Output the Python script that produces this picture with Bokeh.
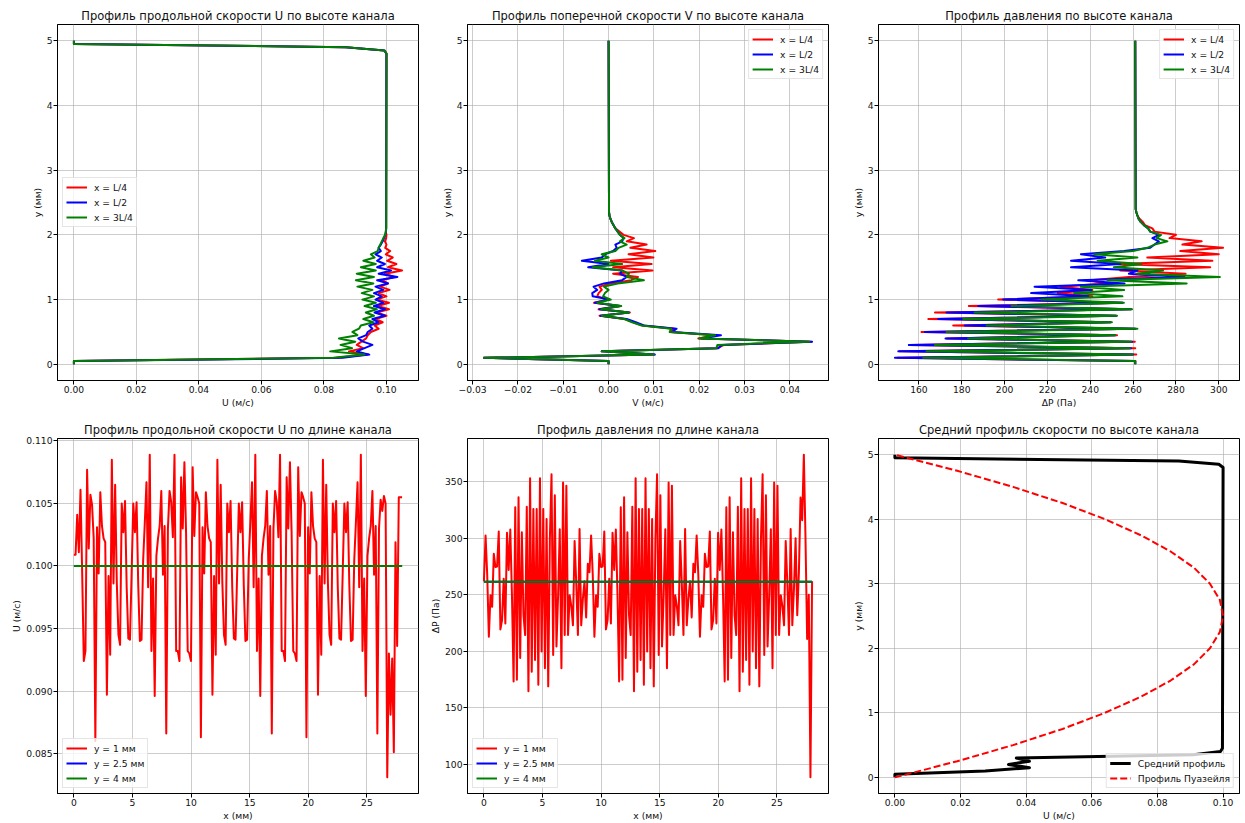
import numpy as np
from bokeh.plotting import figure
from bokeh.layouts import row, column
from bokeh.models import Range1d, FixedTicker, CustomJSTickFormatter, Legend, LegendItem
from bokeh.embed import file_html
from bokeh.resources import INLINE

FONT = "DejaVu Sans"
SMALL = "9.2px"
TITLE_SIZE = "11.5px"
RED, BLUE, GREEN, BLACK = "#ff0000", "#0000ff", "#008000", "#000000"

# ---------------- profiles along the channel height (y, mm) ----------------
# U profiles: 0.05 mm samples up to 2.0 mm, then the flat core and the upper wall
Y_U_LOW = np.linspace(0.0, 2.0, 41)
Y_U_TOP = [2.05, 2.1, 4.8, 4.85, 4.9, 4.95, 5.0]
U_TOP = [0.0998, 0.0999, 0.1000, 0.0993, 0.0870, 0.0, 0.0]

U_L4 = [0.0, 0.0, 0.0840, 0.0940, 0.0880, 0.0925, 0.0905, 0.0920, 0.0935, 0.0940,
        0.0950, 0.0975, 0.0962, 0.0988, 0.0965, 0.1000, 0.0968, 0.1008, 0.0972, 0.1008,
        0.0968, 0.1000, 0.0975, 0.1010, 0.0980, 0.1005, 0.0985, 0.1025, 0.0995, 0.1050,
        0.1005, 0.1032, 0.1002, 0.1020, 0.0998, 0.1012, 0.0996, 0.1000, 0.0995, 0.0999,
        0.1000]
U_L2 = [0.0, 0.0, 0.0860, 0.0945, 0.0905, 0.0930, 0.0955, 0.0925, 0.0910, 0.0935,
        0.0940, 0.0955, 0.0945, 0.0975, 0.0955, 0.0995, 0.0962, 0.0995, 0.0960, 0.0990,
        0.0965, 0.0985, 0.0960, 0.0990, 0.0965, 0.1005, 0.0970, 0.1035, 0.0975, 0.1015,
        0.0970, 0.0995, 0.0970, 0.0985, 0.0965, 0.0982, 0.0975, 0.0982, 0.0988, 0.0992,
        0.0996]
U_3L4 = [0.0, 0.0, 0.0830, 0.0930, 0.0820, 0.0890, 0.0853, 0.0900, 0.0848, 0.0907,
         0.0891, 0.0912, 0.0918, 0.0958, 0.0926, 0.0960, 0.0934, 0.0969, 0.0930, 0.0966,
         0.0923, 0.0960, 0.0921, 0.0955, 0.0907, 0.0958, 0.0902, 0.0960, 0.0905, 0.0966,
         0.0918, 0.0966, 0.0926, 0.0962, 0.0950, 0.0972, 0.0975, 0.0980, 0.0985, 0.0990,
         0.0996]

# V profiles: 0.05 mm samples up to 2.35 mm, then zero up to 5 mm
Y_V_LOW = np.linspace(0.0, 2.35, 48)
Y_V_TOP = [5.0]
V_TOP = [0.0]
V_L4 = [0.0, 0.0, -0.0275, 0.0100, -0.0015, 0.0240, 0.0255, 0.0447, 0.0198, 0.0235,
        0.0135, 0.0145, 0.0075, 0.0055, 0.0035, -0.0020, 0.0047, -0.0022, 0.0025, -0.0032,
        0.0000, -0.0025, -0.0022, -0.0015, -0.0020, 0.0005, 0.0050, 0.0065, 0.0010, 0.0097,
        0.0010, 0.0095, 0.0005, 0.0099, 0.0044, 0.0103, 0.0048, 0.0084, 0.0040, 0.0056,
        0.0033, 0.0024, 0.0015, 0.0011, 0.0007, 0.0004, 0.0002, 0.0001]
V_L2 = [0.0, 0.0, -0.0275, 0.0102, -0.0015, 0.0242, 0.0250, 0.0449, 0.0205, 0.0248,
        0.0140, 0.0150, 0.0078, 0.0060, 0.0040, -0.0018, 0.0045, -0.0020, 0.0026, -0.0030,
        0.0002, -0.0035, -0.0036, -0.0025, -0.0033, -0.0010, 0.0030, 0.0040, 0.0025, 0.0030,
        -0.0045, 0.0000, -0.0059, -0.0015, -0.0008, 0.0010, 0.0018, 0.0015, 0.0030, 0.0033,
        0.0025, 0.0020, 0.0015, 0.0011, 0.0007, 0.0004, 0.0002, 0.0001]
V_3L4 = [0.0, 0.0, -0.0275, 0.0100, -0.0015, 0.0238, 0.0240, 0.0443, 0.0200, 0.0235,
         0.0135, 0.0138, 0.0073, 0.0052, 0.0035, -0.0015, 0.0045, -0.0016, 0.0028, -0.0025,
         0.0005, -0.0012, -0.0008, 0.0000, -0.0010, 0.0020, 0.0078, 0.0040, 0.0045, 0.0030,
         -0.0035, 0.0030, -0.0030, 0.0000, -0.0015, 0.0015, 0.0022, 0.0040, 0.0025, 0.0035,
         0.0025, 0.0020, 0.0015, 0.0011, 0.0007, 0.0004, 0.0002, 0.0001]

# Pressure profiles: 0.05 mm samples up to 2.4 mm, then constant to 5 mm
Y_P_LOW = np.linspace(0.0, 2.4, 49)
Y_P_TOP = [5.0]
P_TOP = [261.0]
P_L4 = [261, 261, 150, 261.5, 151, 261, 155.5, 260.8, 173, 252.5,
        161.2, 261, 176, 249.5, 164.4, 252, 167.5, 259, 183.3, 255,
        197, 241, 224.8, 241, 226, 247, 240, 258, 284.5, 254,
        296, 252, 297, 266.6, 300, 282, 302, 283, 292, 277,
        280, 270, 269, 265.5, 264.5, 263, 262, 261.5, 261.2]
P_L2 = [261, 261, 148.8, 260, 150.4, 259, 155.3, 259.5, 172.4, 251.5,
        162.8, 261, 181.4, 249.5, 169, 252, 172.9, 259, 187.7, 255,
        199.3, 239, 212.4, 240.5, 214, 256, 234.4, 284, 258, 262,
        231, 254, 231, 247, 235.6, 255.8, 268, 270, 272, 269,
        272, 268, 267, 265, 263.5, 262.5, 262, 261.5, 261.2]
P_3L4 = [261, 261, 162, 259.8, 163.6, 258.5, 167.5, 259, 183, 251.7,
         172.9, 262, 191.6, 250.1, 180.7, 252.5, 186, 259.5, 203.2, 255.7,
         217.2, 255, 232.5, 255.8, 235.6, 285, 248, 300.5, 262, 274,
         251, 264, 243.4, 262, 241.8, 260, 266.6, 270, 276, 271,
         273, 268, 267, 265, 263.5, 262.5, 262, 261.5, 261.2]

# Mean profile and Poiseuille profile
Y_MEAN = list(np.linspace(0.0, 0.45, 10)) + [4.8, 4.85, 4.9, 4.95, 5.0]
U_MEAN = [0.0, 0.0, 0.0275, 0.0410, 0.0346, 0.0410, 0.0370, 0.0910, 0.0992, 0.0998,
          0.1000, 0.0987, 0.0865, 0.0, 0.0]
Y_POIS = [0.0, 0.25, 0.5, 0.75, 1.0, 1.25, 1.5, 1.75, 2.0, 2.25, 2.5,
          2.75, 3.0, 3.25, 3.5, 3.75, 4.0, 4.25, 4.5, 4.75, 5.0]
U_POIS = [0.0, 0.0190, 0.0360, 0.0511, 0.0640, 0.0750, 0.0840, 0.0911, 0.0960, 0.0990, 0.1000,
          0.0990, 0.0960, 0.0911, 0.0840, 0.0750, 0.0640, 0.0511, 0.0360, 0.0190, 0.0]

# ---------------- profiles along the channel length (x, mm) ----------------
U_Y1 = [0.1009, 0.1009, 0.1041, 0.1011, 0.1061, 0.0995, 0.0924, 0.0932, 0.1077, 0.1014,
        0.1057, 0.1049, 0.1022, 0.0860, 0.1031, 0.0994, 0.1059, 0.1032, 0.1022, 0.1019,
        0.0897, 0.0992, 0.0929, 0.1085, 0.0986, 0.1065, 0.0987, 0.0945, 0.0937, 0.1050,
        0.1027, 0.1052, 0.0983, 0.0942, 0.0941, 0.0995, 0.1050, 0.1027, 0.1051, 0.0985,
        0.0940, 0.0941, 0.1005, 0.1035, 0.1067, 0.0983, 0.1089, 0.0932, 0.0990, 0.0896,
        0.1008, 0.1022, 0.1032, 0.1060, 0.0993, 0.1032, 0.0866, 0.1030, 0.1060, 0.1051,
        0.1023, 0.1089, 0.0932, 0.0932,
        0.0924, 0.1071, 0.1030, 0.1083, 0.1027, 0.0932, 0.0930, 0.0924, 0.1079, 0.1024,
        0.1059, 0.1055, 0.1050, 0.0863, 0.1031, 0.0994, 0.1059, 0.1032, 0.1022, 0.1019,
        0.0897, 0.0992, 0.0929, 0.1085, 0.0986, 0.1065, 0.0987, 0.0945, 0.0937, 0.1050,
        0.1027, 0.1052, 0.0983, 0.0942, 0.0941, 0.0995, 0.1050, 0.1027, 0.1051, 0.0985,
        0.0940, 0.0941, 0.1005, 0.1035, 0.1067, 0.0983, 0.1089, 0.0932, 0.0990, 0.0896,
        0.1008, 0.1022, 0.1032, 0.1060, 0.0993, 0.1032, 0.0866, 0.1030, 0.1060, 0.1051,
        0.1023, 0.1089, 0.0932, 0.0932,
        0.0924, 0.1071, 0.1030, 0.1083, 0.1027, 0.0932, 0.0930, 0.0924, 0.1079, 0.1024,
        0.1059, 0.1055, 0.1050, 0.0863, 0.1031, 0.0994, 0.1059, 0.1032, 0.1022, 0.1019,
        0.0897, 0.0992, 0.0929, 0.1085, 0.0986, 0.1065, 0.0987, 0.0945, 0.0937, 0.1050,
        0.1027, 0.1052, 0.0983, 0.0942, 0.0941, 0.0995, 0.1050, 0.1027, 0.1051, 0.0985,
        0.0940, 0.0941, 0.1005, 0.1035, 0.1067, 0.0983, 0.1089, 0.0932, 0.0990, 0.0896,
        0.1008, 0.1022, 0.1032, 0.1060, 0.0993, 0.1032,
        0.0866, 0.1030, 0.1053, 0.1044, 0.1056, 0.1050, 0.0831, 0.0930, 0.0881, 0.0926,
        0.0851, 0.1019, 0.0936, 0.1055, 0.1055, 0.1055]
U_Y25 = [0.1000, 0.1000]
U_Y4 = [0.1000, 0.1000]

P_Y1 = [262, 302.5, 268, 213, 249.7, 239.4, 286.3, 274.6, 275, 306,
        219.4, 227.6, 264.3, 224.7, 304.8, 272, 307.7, 250, 173.4, 327.4,
        174.8, 336.2, 194, 305.4, 232, 214.4, 328, 164.6, 353, 182,
        326, 192.4, 326, 170.4, 353, 199.8, 326, 185, 317, 169,
        300, 356.7, 196.8, 338, 204.2, 250, 308, 185, 349.4, 214.4,
        346.5, 214.4, 249.7, 240, 223, 297.5, 260, 214.4, 308.3, 223,
        246.5, 262, 230, 277.5,
        270, 302.5, 268, 213, 249.7, 239.4, 286.3, 274.6, 275, 306,
        219.4, 227.6, 264.3, 224.7, 304.8, 272, 307.7, 250, 173.4, 327.4,
        174.8, 336.2, 194, 305.4, 232, 214.4, 328, 164.6, 353, 182,
        326, 192.4, 326, 170.4, 353, 199.8, 326, 185, 317, 169,
        300, 356.7, 196.8, 338, 204.2, 250, 308, 185, 349.4, 214.4,
        346.5, 214.4, 249.7, 240, 223, 297.5, 260, 214.4, 308.3, 223,
        246.5, 262, 230, 277.5,
        270, 302.5, 268, 213, 249.7, 239.4, 286.3, 274.6, 275, 306,
        219.4, 227.6, 264.3, 224.7, 304.8, 272, 307.7, 250, 173.4, 327.4,
        174.8, 336.2, 194, 305.4, 232, 214.4, 328, 164.6, 353, 182,
        326, 192.4, 326, 170.4, 353, 199.8, 326, 185, 317, 169,
        300, 356.7, 196.8, 338, 204.2, 250, 308, 185, 349.4, 214.4,
        346.5, 214.4, 249.7, 240, 223, 297.5, 260, 214.4, 308.3, 223,
        255, 300, 232, 270, 336, 316, 374, 300, 211, 250,
        88.5, 262]
P_Y25 = [261.5, 261.5]
P_Y4 = [261.5, 261.5]
X_END = [0.0, 28.0]
X_MM = np.linspace(0.0, 28.0, len(U_Y1))


def pad(lo, hi, f=0.05):
    s = hi - lo
    return (lo - f * s, hi + f * s)


def fmt(d):
    return CustomJSTickFormatter(code="return tick.toFixed(%d).replace('-', '\u2212');" % d)


def make(title, xr, yr, xt, yt, xd, yd, xlab, ylab, w, h, bl, br, bt, bb):
    p = figure(width=w, height=h, title=title, x_range=Range1d(*xr), y_range=Range1d(*yr),
               output_backend="svg", toolbar_location=None, tools="",
               min_border_left=bl, min_border_right=br, min_border_top=bt, min_border_bottom=bb)
    p.title.text_font = FONT
    p.title.text_font_size = TITLE_SIZE
    p.title.text_font_style = "normal"
    p.title.text_color = "#111111"
    p.title.align = "center"
    p.title.standoff = 4
    p.outline_line_color = "black"
    p.outline_line_width = 1
    p.outline_line_alpha = 1
    p.background_fill_color = "white"
    p.border_fill_color = "white"
    for ax in (p.xaxis[0], p.yaxis[0]):
        ax.axis_line_color = "black"
        ax.major_tick_line_color = "black"
        ax.major_tick_out = 4
        ax.major_tick_in = 0
        ax.minor_tick_line_color = None
        ax.major_label_text_font = FONT
        ax.major_label_text_font_size = SMALL
        ax.major_label_text_color = "#111111"
        ax.major_label_standoff = 1
        ax.axis_label_text_font = FONT
        ax.axis_label_text_font_size = SMALL
        ax.axis_label_text_font_style = "normal"
        ax.axis_label_text_color = "#111111"
        ax.axis_label_standoff = 1
    p.xaxis.ticker = FixedTicker(ticks=xt)
    p.yaxis.ticker = FixedTicker(ticks=yt)
    p.xgrid.ticker = FixedTicker(ticks=xt)
    p.ygrid.ticker = FixedTicker(ticks=yt)
    p.xaxis.formatter = fmt(xd)
    p.yaxis.formatter = fmt(yd)
    p.xaxis.axis_label = xlab
    p.yaxis.axis_label = ylab
    p.grid.grid_line_color = "#b0b0b0"
    p.grid.grid_line_alpha = 0.65
    p.grid.grid_line_width = 1
    return p


def add_legend(p, items, loc):
    lg = Legend(items=[LegendItem(label=l, renderers=[r]) for l, r in items], location=loc)
    lg.label_text_font = FONT
    lg.label_text_font_size = SMALL
    lg.label_text_color = "#111111"
    lg.glyph_width = 21
    lg.glyph_height = 12
    lg.label_height = 12
    lg.label_standoff = 7
    lg.spacing = 3
    lg.padding = 3
    lg.margin = 5
    lg.border_line_color = "#cccccc"
    lg.border_line_width = 1
    lg.background_fill_color = "white"
    lg.background_fill_alpha = 0.8
    p.add_layout(lg)


def ln(p, x, y, color, width=2, dash="solid"):
    return p.line(x, y, line_color=color, line_width=width, line_join="round", line_dash=dash)


Y_TICKS = [0, 1, 2, 3, 4, 5]
Y_RANGE = pad(0.0, 5.0)
TOP_H, BOT_H = 415, 408
TOP_BT, BOT_BT = 24, 23
TOP_BB, BOT_BB = 35, 29
W1, W2, W3 = 419, 410, 415
BL1, BL2, BL3 = 57, 48, 49
BR1, BR2, BR3 = 1, 1, 5

# ---- plot 1 ----
yu = list(Y_U_LOW) + Y_U_TOP
u1, u2, u3 = U_L4 + U_TOP, U_L2 + U_TOP, U_3L4 + U_TOP
allu = u1 + u2 + u3
p1 = make("Профиль продольной скорости U по высоте канала", pad(min(allu), max(allu)), Y_RANGE,
          [0, 0.02, 0.04, 0.06, 0.08, 0.10], Y_TICKS, 2, 0, "U (м/с)", "y (мм)",
          W1, TOP_H, BL1, BR1, TOP_BT, TOP_BB)
r = [ln(p1, u1, yu, RED), ln(p1, u2, yu, BLUE), ln(p1, u3, yu, GREEN)]
add_legend(p1, list(zip(["x = L/4", "x = L/2", "x = 3L/4"], r)), "left")

# ---- plot 2 ----
yv = list(Y_V_LOW) + Y_V_TOP
v1, v2, v3 = V_L4 + V_TOP, V_L2 + V_TOP, V_3L4 + V_TOP
allv = v1 + v2 + v3
p2 = make("Профиль поперечной скорости V по высоте канала", pad(min(allv), max(allv)), Y_RANGE,
          [-0.03, -0.02, -0.01, 0.0, 0.01, 0.02, 0.03, 0.04], Y_TICKS, 2, 0, "V (м/с)", "y (мм)",
          W2, TOP_H, BL2, BR2, TOP_BT, TOP_BB)
r = [ln(p2, v1, yv, RED), ln(p2, v2, yv, BLUE), ln(p2, v3, yv, GREEN)]
add_legend(p2, list(zip(["x = L/4", "x = L/2", "x = 3L/4"], r)), "top_right")

# ---- plot 3 ----
yp = list(Y_P_LOW) + Y_P_TOP
q1, q2, q3 = P_L4 + P_TOP, P_L2 + P_TOP, P_3L4 + P_TOP
allp = q1 + q2 + q3
p3 = make("Профиль давления по высоте канала", pad(min(allp), max(allp)), Y_RANGE,
          [160, 180, 200, 220, 240, 260, 280, 300], Y_TICKS, 0, 0, "ΔP (Па)", "y (мм)",
          W3, TOP_H, BL3, BR3, TOP_BT, TOP_BB)
r = [ln(p3, q1, yp, RED), ln(p3, q2, yp, BLUE), ln(p3, q3, yp, GREEN)]
add_legend(p3, list(zip(["x = L/4", "x = L/2", "x = 3L/4"], r)), "top_right")

# ---- plot 4 ----
X_RANGE = pad(0.0, 28.0)
p4 = make("Профиль продольной скорости U по длине канала", X_RANGE, pad(min(U_Y1), max(U_Y1)),
          [0, 5, 10, 15, 20, 25], [0.085, 0.090, 0.095, 0.100, 0.105, 0.110], 0, 3,
          "x (мм)", "U (м/с)", W1, BOT_H, BL1, BR1, BOT_BT, BOT_BB)
r = [ln(p4, X_MM, U_Y1, RED), ln(p4, X_END, U_Y25, BLUE), ln(p4, X_END, U_Y4, GREEN)]
add_legend(p4, list(zip(["y = 1 мм", "y = 2.5 мм", "y = 4 мм"], r)), "bottom_left")

# ---- plot 5 ----
p5 = make("Профиль давления по длине канала", X_RANGE, pad(min(P_Y1), max(P_Y1)),
          [0, 5, 10, 15, 20, 25], [100, 150, 200, 250, 300, 350], 0, 0,
          "x (мм)", "ΔP (Па)", W2, BOT_H, BL2, BR2, BOT_BT, BOT_BB)
r = [ln(p5, X_MM, P_Y1, RED), ln(p5, X_END, P_Y25, BLUE), ln(p5, X_END, P_Y4, GREEN)]
add_legend(p5, list(zip(["y = 1 мм", "y = 2.5 мм", "y = 4 мм"], r)), "bottom_left")

# ---- plot 6 ----
allm = U_MEAN + U_POIS
p6 = make("Средний профиль скорости по высоте канала", pad(min(allm), max(allm)), Y_RANGE,
          [0, 0.02, 0.04, 0.06, 0.08, 0.10], Y_TICKS, 2, 0, "U (м/с)", "y (мм)",
          W3, BOT_H, BL3, BR3, BOT_BT, BOT_BB)
r = [ln(p6, U_MEAN, Y_MEAN, BLACK, 3), ln(p6, U_POIS, Y_POIS, RED, 2, "7 3")]
add_legend(p6, list(zip(["Средний профиль", "Профиль Пуазейля"], r)), "bottom_right")

layout = column(row(p1, p2, p3), row(p4, p5, p6))
open("out.html", "w").write(file_html(layout, INLINE))
